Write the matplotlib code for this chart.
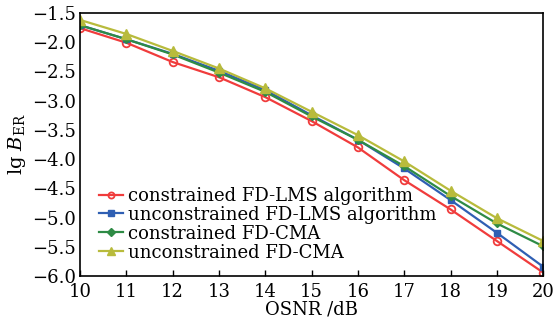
import numpy as np
import matplotlib
matplotlib.use("Agg")
import matplotlib.pyplot as plt

plt.rcParams['font.family'] = ['DejaVu Serif']
plt.rcParams['mathtext.fontset'] = 'dejavuserif'

osnr = [10, 11, 12, 13, 14, 15, 16, 17, 18, 19, 20]

# lg BER values
constrained_lms = [-1.76, -2.01, -2.34, -2.60, -2.94, -3.35, -3.80, -4.36, -4.86, -5.40, -5.94]
unconstrained_lms = [-1.71, -1.95, -2.20, -2.49, -2.82, -3.25, -3.67, -4.16, -4.70, -5.26, -5.84]
constrained_cma = [-1.71, -1.95, -2.21, -2.52, -2.85, -3.27, -3.67, -4.12, -4.63, -5.10, -5.49]
unconstrained_cma = [-1.62, -1.86, -2.15, -2.45, -2.79, -3.19, -3.59, -4.04, -4.54, -5.01, -5.40]

labels = ["constrained FD-LMS algorithm", "unconstrained FD-LMS algorithm",
          "constrained FD-CMA", "unconstrained FD-CMA"]

fig = plt.figure(figsize=(5.54, 3.31), dpi=100)
ax = fig.add_axes([0.1444, 0.166, 0.836, 0.795])

ax.plot(osnr, constrained_lms, color="#f03c3c", marker="o", mfc="none", mew=1.3,
        ms=5.5, lw=1.6, label=labels[0])
ax.plot(osnr, unconstrained_lms, color="#2f5fb3", marker="s", ms=5,
        lw=1.6, label=labels[1])
ax.plot(osnr, constrained_cma, color="#2e8b45", marker="D", ms=4.5,
        lw=1.6, label=labels[2])
ax.plot(osnr, unconstrained_cma, color="#b8bb3c", marker="^", ms=6.5,
        lw=1.6, label=labels[3])

ax.set_xlim(10, 20)
ax.set_ylim(-6, -1.5)
ax.set_xticks(osnr)
ax.set_yticks(np.arange(-6, -1.49, 0.5))
ax.yaxis.set_major_formatter(matplotlib.ticker.FuncFormatter(
    lambda v, p: ("%.1f" % v).replace("-", "\u2212")))
ax.tick_params(axis="x", direction="in", length=4, width=1, labelsize=13, pad=5, top=False)
ax.tick_params(axis="y", length=0, labelsize=13, pad=3)
for s in ax.spines.values():
    s.set_linewidth(1.2)

ax.set_xlabel("OSNR /dB", fontsize=13, labelpad=0)
ax.set_ylabel(r"lg $B_{\rm ER}$", fontsize=14, labelpad=3)

ax.legend(loc="lower left", bbox_to_anchor=(0.01, 0.0), frameon=False, fontsize=13,
          handlelength=1.3, handletextpad=0.3, labelspacing=0.05, borderpad=0.3,
          markerscale=0.8)

fig.savefig("out.png", dpi=100)
